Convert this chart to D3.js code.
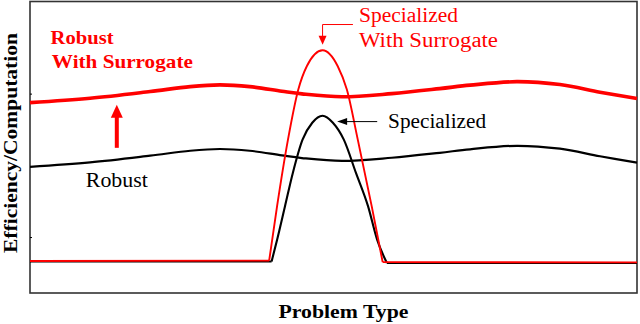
<!DOCTYPE html>
<html>
<head>
<meta charset="utf-8">
<script src="https://cdn.jsdelivr.net/npm/d3@7"></script>
<style>
  body { margin: 0; background: #fff; }
  text { font-family: "Liberation Serif", "Times New Roman", serif; }
</style>
</head>
<body>
<div id="chart"></div>
<script>
// ---------- DATA ----------
const size = { w: 640, h: 324 };
const margin = { top: 1.5, right: 3, bottom: 31, left: 30 };

// problem type axis (0..100) and efficiency (0..100), no labels on the original
const robustX = [0, 9.9, 19.8, 26.4, 31.3, 36.2, 41.5, 44.8, 51.4, 59.6, 67.5, 72.5, 80.2, 87.3, 93.9, 100];
const robustSurrogate = [65.3, 66.8, 69.1, 70.8, 71.4, 70.8, 69.2, 68.3, 67.3, 68.4, 70.1, 71.3, 72.5, 71.5, 68.9, 66.7];
const robust = [43.3, 44.8, 47.1, 48.8, 49.4, 48.8, 47.2, 46.3, 45.3, 46.4, 48.1, 49.3, 50.5, 49.5, 46.9, 44.7];

const specializedX = [0, 39.8, 40.7, 42.0, 43.3, 44.9, 46.5, 48.2, 49.9, 51.7, 53.7, 55.7, 57.2, 58.8, 100];
const specialized = [10.8, 10.8, 18.2, 29.7, 41.2, 52.6, 58.4, 60.8, 58.4, 52.6, 41.2, 29.7, 18.2, 10.3, 10.3];

const specSurrogateX = [0, 39.4, 40.7, 42.5, 44.2, 45.6, 48.2, 50.7, 52.2, 54.0, 56.3, 58.1, 100];
const specSurrogate = [11.0, 11.1, 29.7, 52.6, 69.8, 77.8, 83.3, 77.8, 69.8, 52.6, 29.7, 10.6, 10.5];

const yTicks = [68.4, 19.2];

const red = "#ff0000";

// ---------- CHART ----------
const svg = d3.select("#chart")
	.append("svg")
	.attr("width", size.w)
	.attr("height", size.h);

const xScale = d3.scaleLinear()
	.domain([0, 100])
	.range([margin.left, size.w - margin.right]);
const yScale = d3.scaleLinear()
	.domain([0, 100])
	.range([size.h - margin.bottom, margin.top]);

const zip = (xs, ys) => xs.map((x, i) => [x, ys[i]]);

const wavy = d3.line()
	.x(d => xScale(d[0]))
	.y(d => yScale(d[1]))
	.curve(d3.curveCatmullRom.alpha(0.5));
const smooth = d3.line()
	.x(d => xScale(d[0]))
	.y(d => yScale(d[1]))
	.curve(d3.curveMonotoneX);
const straight = d3.line()
	.x(d => xScale(d[0]))
	.y(d => yScale(d[1]));

// frame
svg.append("rect")
	.attr("x", margin.left)
	.attr("y", margin.top)
	.attr("width", size.w - margin.left - margin.right)
	.attr("height", size.h - margin.top - margin.bottom)
	.attr("fill", "none")
	.attr("stroke", "#333")
	.attr("stroke-width", 1.6);

// tiny ticks left over on the y axis
svg.append("g")
	.attr("transform", `translate(${margin.left}, 0)`)
	.call(d3.axisRight(yScale).tickValues(yTicks).tickSize(2).tickFormat(""))
	.call(g => g.select(".domain").remove())
	.selectAll("line").attr("stroke", "#000");

// robust curves
svg.append("path")
	.datum(zip(robustX, robust))
	.attr("d", wavy)
	.attr("fill", "none")
	.attr("stroke", "#000")
	.attr("stroke-width", 2.2);

svg.append("path")
	.datum(zip(robustX, robustSurrogate))
	.attr("d", wavy)
	.attr("fill", "none")
	.attr("stroke", red)
	.attr("stroke-width", 3.6);

// specialized curves: flat parts straight, hump smooth
function drawSpecial(xs, ys, color, width) {
	const pts = zip(xs, ys);
	const n = pts.length;
	const parts = [
		[pts.slice(0, 2), straight],
		[pts.slice(1, n - 1), smooth],
		[pts.slice(n - 2), straight],
	];
	parts.forEach(([d, gen]) => {
		svg.append("path")
			.datum(d)
			.attr("d", gen)
			.attr("fill", "none")
			.attr("stroke", color)
			.attr("stroke-width", width)
			.attr("stroke-linejoin", "round");
	});
}
drawSpecial(specializedX, specialized, "#000", 2.1);
drawSpecial(specSurrogateX, specSurrogate, red, 1.9);

// ---------- ANNOTATIONS ----------
function arrowHead(tip, dir, len, half, color) {
	// dir: unit vector pointing to the tip
	const [tx, ty] = tip;
	const bx = tx - dir[0] * len, by = ty - dir[1] * len;
	const px = -dir[1] * half, py = dir[0] * half;
	svg.append("path")
		.attr("d", `M${tx},${ty}L${bx + px},${by + py}L${bx - px},${by - py}Z`)
		.attr("fill", color);
}

// black arrow to specialized peak
svg.append("line")
	.attr("x1", xScale(57.2)).attr("y1", yScale(58.8))
	.attr("x2", xScale(51.8)).attr("y2", yScale(58.8))
	.attr("stroke", "#000").attr("stroke-width", 1);
arrowHead([xScale(50.6), yScale(58.8)], [-1, 0], 10, 3.5, "#000");

svg.append("text")
	.attr("x", xScale(59.0)).attr("y", yScale(56.7))
	.attr("font-size", 20).attr("textLength", 98).attr("lengthAdjust", "spacingAndGlyphs")
	.text("Specialized");

// red leader to specialized with surrogate peak
svg.append("path")
	.attr("d", `M${xScale(53.2)},${yScale(92.1)}H${xScale(48.2)}V${yScale(88.0)}`)
	.attr("fill", "none").attr("stroke", red).attr("stroke-width", 1);
arrowHead([xScale(48.2), yScale(85.2)], [0, 1], 9, 4, red);

svg.append("text")
	.attr("x", xScale(54.2)).attr("y", yScale(92.8))
	.attr("fill", red)
	.attr("font-size", 20).attr("textLength", 99).attr("lengthAdjust", "spacingAndGlyphs")
	.text("Specialized");
svg.append("text")
	.attr("x", xScale(54.2)).attr("y", yScale(84.5))
	.attr("fill", red)
	.attr("font-size", 20).attr("textLength", 139).attr("lengthAdjust", "spacingAndGlyphs")
	.text("With Surrogate");

// robust label
svg.append("text")
	.attr("x", xScale(9.2)).attr("y", yScale(36.4))
	.attr("font-size", 20).attr("textLength", 62).attr("lengthAdjust", "spacingAndGlyphs")
	.text("Robust");

// red bold label
svg.append("text")
	.attr("x", xScale(3.4)).attr("y", yScale(85.5))
	.attr("fill", red).attr("font-weight", "bold")
	.attr("font-size", 19).attr("textLength", 63).attr("lengthAdjust", "spacingAndGlyphs")
	.text("Robust");
svg.append("text")
	.attr("x", xScale(3.6)).attr("y", yScale(77.3))
	.attr("fill", red).attr("font-weight", "bold")
	.attr("font-size", 19).attr("textLength", 141).attr("lengthAdjust", "spacingAndGlyphs")
	.text("With Surrogate");

// thick red up arrow
svg.append("line")
	.attr("x1", xScale(14.3)).attr("y1", yScale(49.8))
	.attr("x2", xScale(14.3)).attr("y2", yScale(60.5))
	.attr("stroke", red).attr("stroke-width", 4);
arrowHead([xScale(14.3), yScale(64.6)], [0, -1], 13, 6, red);

// axis titles
svg.append("text")
	.attr("x", (margin.left + size.w - margin.right) / 2 + 10)
	.attr("y", 318)
	.attr("text-anchor", "middle")
	.attr("font-weight", "bold")
	.attr("font-size", 19).attr("textLength", 130).attr("lengthAdjust", "spacingAndGlyphs")
	.text("Problem Type");

svg.append("text")
	.attr("transform", `translate(17, 143) rotate(-90)`)
	.attr("text-anchor", "middle")
	.attr("font-weight", "bold")
	.attr("font-size", 19).attr("textLength", 220).attr("lengthAdjust", "spacingAndGlyphs")
	.text("Efficiency/Computation");
</script>
</body>
</html>
